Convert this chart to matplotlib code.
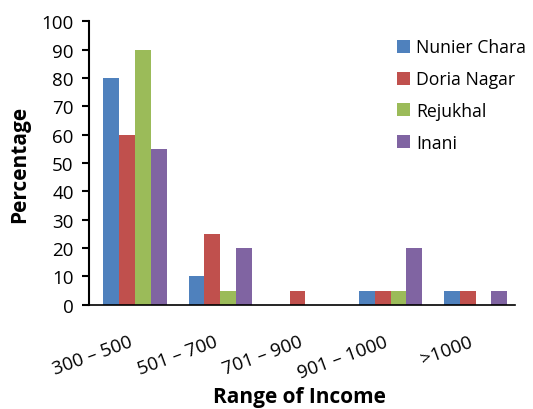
import numpy as np
import matplotlib
matplotlib.use("Agg")
import matplotlib.pyplot as plt

plt.rcParams['font.family'] = ['Open Sans', 'DejaVu Sans']

categories = ["300 \u2013 500", "501 \u2013 700", "701 \u2013 900", "901 \u2013 1000", ">1000"]
series_names = ["Nunier Chara", "Doria Nagar", "Rejukhal", "Inani"]
nunier_chara = [80, 10, 0, 5, 5]
doria_nagar = [60, 25, 5, 5, 5]
rejukhal = [90, 5, 0, 5, 0]
inani = [55, 20, 0, 20, 5]
colors = ["#4F81BD", "#C0504D", "#9BBB59", "#8064A2"]

fig = plt.figure(figsize=(5.33, 4.10), dpi=100)
ax = fig.add_axes([0.167, 0.254, 0.799, 0.692])

x = np.arange(len(categories))
width = 0.185
for i, (name, vals) in enumerate(zip(series_names, [nunier_chara, doria_nagar, rejukhal, inani])):
    ax.bar(x + (i - 1.5) * width + 0.04, vals, width, color=colors[i], label=name)

ax.set_xlim(-0.5, len(categories) - 0.5)
ax.set_ylim(0, 100)
ax.set_yticks(range(0, 101, 10))
ax.set_xticks(x)
ax.set_xticklabels(categories, rotation=20, fontsize=13.5, ha='right', va='center',
                   rotation_mode='anchor')
ax.tick_params(axis='y', labelsize=13.5, direction='out', length=5, width=1.5, pad=6)
ax.tick_params(axis='x', length=0, pad=26)
for s in ['top', 'right']:
    ax.spines[s].set_visible(False)
ax.spines['left'].set_linewidth(1.5)
ax.spines['bottom'].set_linewidth(1.2)

ax.set_ylabel("Percentage", fontsize=15, fontweight='bold', labelpad=8)
fig.text(0.561, 0.03, "Range of Income", fontsize=15, fontweight='bold',
         ha='center', va='center')

ax.legend(loc='upper left', bbox_to_anchor=(0.685, 0.995), frameon=False, fontsize=12.7,
          handlelength=0.75, handleheight=0.75, handletextpad=0.35, labelspacing=0.78)

fig.savefig("out.png", dpi=100)
